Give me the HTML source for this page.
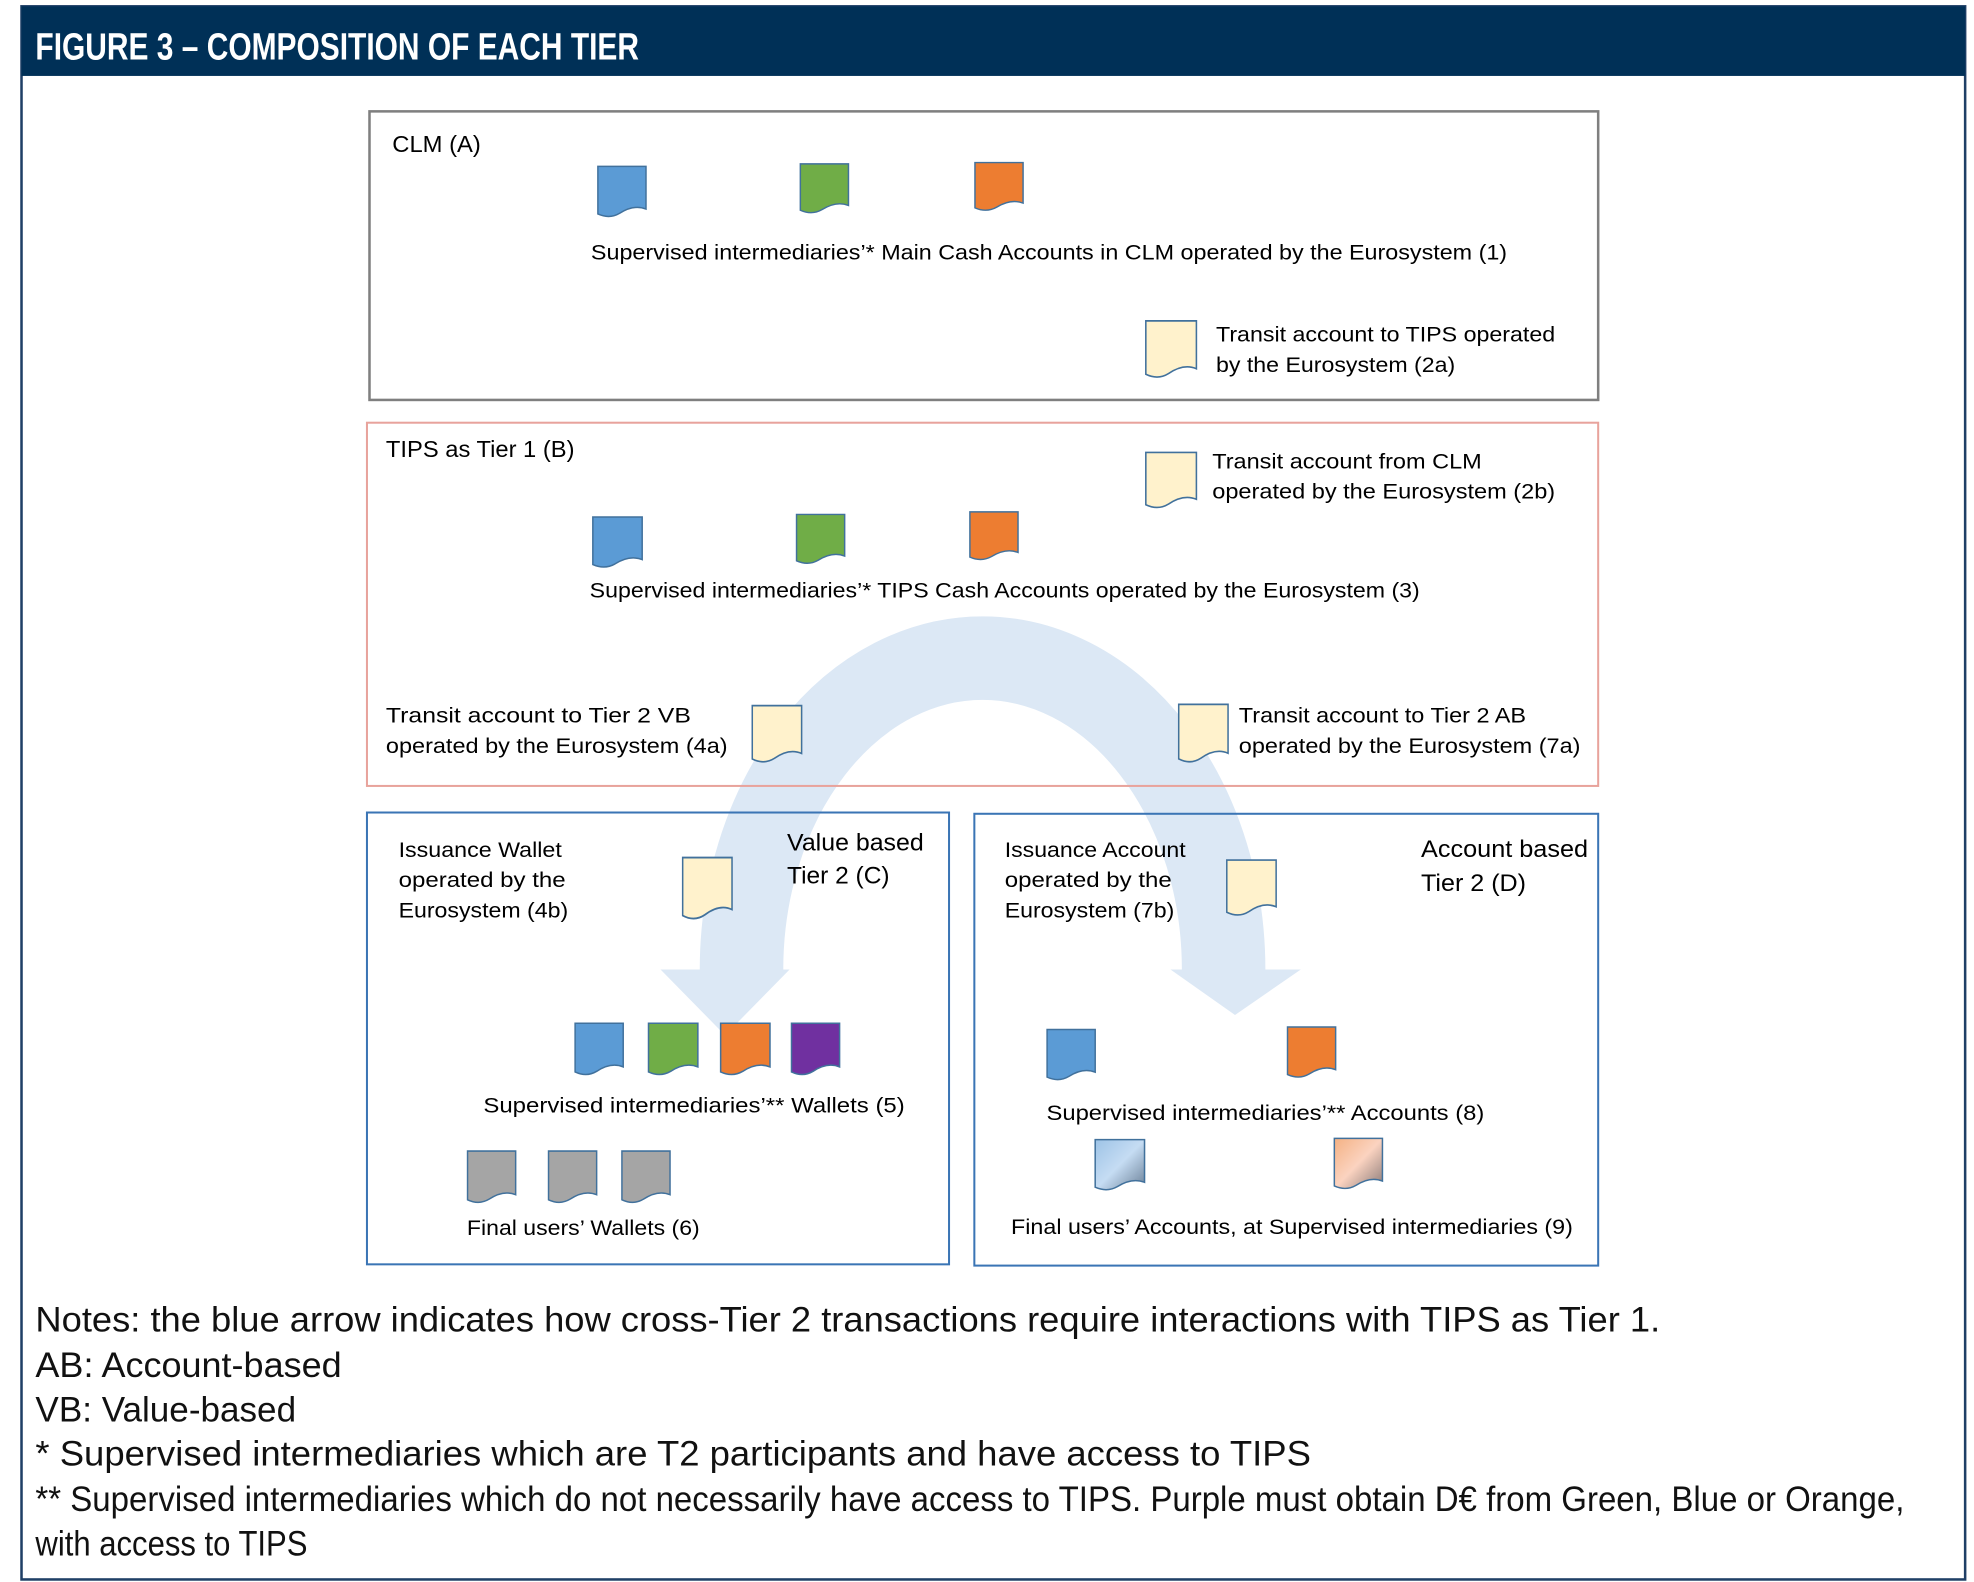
<!DOCTYPE html>
<html><head><meta charset="utf-8"><style>
html,body{margin:0;padding:0;background:#fff;}
svg{display:block;}
text{font-family:"Liberation Sans",sans-serif;}
</style></head><body>
<svg width="1974" height="1582" viewBox="0 0 1560 1250" preserveAspectRatio="none" xmlns="http://www.w3.org/2000/svg">
<defs>
<symbol id="doc" viewBox="0 0 40 42" preserveAspectRatio="none" overflow="visible">
<path d="M0.5,0.5 H39.5 V35 C32,32 25,34 18,38.5 C12,42 6,41.5 0.5,39 Z" stroke="#41719c" stroke-width="1.2" fill="inherit"/>
</symbol>
<linearGradient id="gb" x1="0" y1="0" x2="1" y2="1"><stop offset="0" stop-color="#9dc3e6"/><stop offset="0.5" stop-color="#c5dcf3"/><stop offset="1" stop-color="#6a7f96"/></linearGradient>
<linearGradient id="go" x1="0" y1="0" x2="1" y2="1"><stop offset="0" stop-color="#f4b183"/><stop offset="0.5" stop-color="#fbd3c0"/><stop offset="1" stop-color="#8a7a78"/></linearGradient>
</defs>
<rect x="0" y="0" width="1560" height="1250" fill="#fff"/>
<rect x="17" y="5" width="1536" height="1243" fill="none" stroke="#1f3f66" stroke-width="2"/>
<rect x="17" y="5" width="1536" height="55" fill="#003057"/>
<text x="28" y="47" font-size="30" font-weight="bold" fill="#fff" textLength="477" lengthAdjust="spacingAndGlyphs">FIGURE 3 – COMPOSITION OF EACH TIER</text>

<path d="M586,766 A190.5,246 0 0 1 967,766" fill="none" stroke="#dce8f5" stroke-width="66"/>
<polygon points="522,766 624,766 573,818" fill="#dce8f5"/>
<polygon points="925,766 1028,766 976,802" fill="#dce8f5"/>

<rect x="292" y="88" width="971" height="228" fill="none" stroke="#7f7f7f" stroke-width="2"/>
<rect x="290" y="334" width="973" height="287" fill="none" stroke="#e8a39c" stroke-width="1.6"/>
<rect x="290" y="642" width="460" height="357" fill="none" stroke="#3b75b5" stroke-width="1.6"/>
<rect x="770" y="643" width="493" height="357" fill="none" stroke="#3b75b5" stroke-width="1.6"/>

<g font-size="17" fill="#000">
<text x="310" y="120" font-size="18" textLength="70" lengthAdjust="spacingAndGlyphs">CLM (A)</text>
<text x="467" y="205" textLength="724" lengthAdjust="spacingAndGlyphs">Supervised intermediaries’* Main Cash Accounts in CLM operated by the Eurosystem (1)</text>
<text x="961" y="270" textLength="268" lengthAdjust="spacingAndGlyphs">Transit account to TIPS operated</text>
<text x="961" y="294" textLength="189" lengthAdjust="spacingAndGlyphs">by the Eurosystem (2a)</text>
<text x="305" y="361" font-size="18" textLength="149" lengthAdjust="spacingAndGlyphs">TIPS as Tier 1 (B)</text>
<text x="958" y="370" textLength="213" lengthAdjust="spacingAndGlyphs">Transit account from CLM</text>
<text x="958" y="394" textLength="271" lengthAdjust="spacingAndGlyphs">operated by the Eurosystem (2b)</text>
<text x="466" y="472" textLength="656" lengthAdjust="spacingAndGlyphs">Supervised intermediaries’* TIPS Cash Accounts operated by the Eurosystem (3)</text>
<text x="305" y="571" textLength="241" lengthAdjust="spacingAndGlyphs">Transit account to Tier 2 VB</text>
<text x="305" y="595" textLength="270" lengthAdjust="spacingAndGlyphs">operated by the Eurosystem (4a)</text>
<text x="979" y="571" textLength="227" lengthAdjust="spacingAndGlyphs">Transit account to Tier 2 AB</text>
<text x="979" y="595" textLength="270" lengthAdjust="spacingAndGlyphs">operated by the Eurosystem (7a)</text>
<text x="315" y="677" textLength="129" lengthAdjust="spacingAndGlyphs">Issuance Wallet</text>
<text x="315" y="701" textLength="132" lengthAdjust="spacingAndGlyphs">operated by the</text>
<text x="315" y="725" textLength="134" lengthAdjust="spacingAndGlyphs">Eurosystem (4b)</text>
<text x="622" y="672" font-size="19" textLength="108" lengthAdjust="spacingAndGlyphs">Value based</text>
<text x="622" y="698" font-size="19" textLength="81" lengthAdjust="spacingAndGlyphs">Tier 2 (C)</text>
<text x="382" y="879" textLength="333" lengthAdjust="spacingAndGlyphs">Supervised intermediaries’** Wallets (5)</text>
<text x="369" y="976" textLength="184" lengthAdjust="spacingAndGlyphs">Final users’ Wallets (6)</text>
<text x="794" y="677" textLength="143" lengthAdjust="spacingAndGlyphs">Issuance Account</text>
<text x="794" y="701" textLength="132" lengthAdjust="spacingAndGlyphs">operated by the</text>
<text x="794" y="725" textLength="134" lengthAdjust="spacingAndGlyphs">Eurosystem (7b)</text>
<text x="1123" y="677" font-size="19" textLength="132" lengthAdjust="spacingAndGlyphs">Account based</text>
<text x="1123" y="704" font-size="19" textLength="83" lengthAdjust="spacingAndGlyphs">Tier 2 (D)</text>
<text x="827" y="885" textLength="346" lengthAdjust="spacingAndGlyphs">Supervised intermediaries’** Accounts (8)</text>
<text x="799" y="975" textLength="444" lengthAdjust="spacingAndGlyphs">Final users’ Accounts, at Supervised intermediaries (9)</text>
</g>

<use href="#doc" x="472" y="131" width="39" height="41" fill="#5b9bd5"/>
<use href="#doc" x="632" y="129" width="39" height="40" fill="#70ad47"/>
<use href="#doc" x="770" y="128" width="39" height="39" fill="#ed7d31"/>
<use href="#doc" x="905" y="253" width="41" height="46" fill="#fff2cc"/>
<use href="#doc" x="905" y="357" width="41" height="45" fill="#fff2cc"/>
<use href="#doc" x="468" y="408" width="40" height="41" fill="#5b9bd5"/>
<use href="#doc" x="629" y="406" width="39" height="40" fill="#70ad47"/>
<use href="#doc" x="766" y="404" width="39" height="39" fill="#ed7d31"/>
<use href="#doc" x="594" y="557" width="40" height="46" fill="#fff2cc"/>
<use href="#doc" x="931" y="556" width="40" height="47" fill="#fff2cc"/>
<use href="#doc" x="539" y="677" width="40" height="50" fill="#fff2cc"/>
<use href="#doc" x="454" y="808" width="39" height="42" fill="#5b9bd5"/>
<use href="#doc" x="512" y="808" width="40" height="42" fill="#70ad47"/>
<use href="#doc" x="569" y="808" width="40" height="42" fill="#ed7d31"/>
<use href="#doc" x="625" y="808" width="39" height="42" fill="#7030a0"/>
<use href="#doc" x="369" y="909" width="39" height="42" fill="#a5a5a5"/>
<use href="#doc" x="433" y="909" width="39" height="42" fill="#a5a5a5"/>
<use href="#doc" x="491" y="909" width="39" height="42" fill="#a5a5a5"/>
<use href="#doc" x="969" y="679" width="40" height="45" fill="#fff2cc"/>
<use href="#doc" x="827" y="813" width="39" height="41" fill="#5b9bd5"/>
<use href="#doc" x="1017" y="811" width="39" height="41" fill="#ed7d31"/>
<use href="#doc" x="865" y="900" width="40" height="41" fill="url(#gb)"/>
<use href="#doc" x="1054" y="899" width="39" height="41" fill="url(#go)"/>

<g font-size="28" fill="#111">
<text x="28" y="1052" textLength="1284" lengthAdjust="spacingAndGlyphs">Notes: the blue arrow indicates how cross-Tier 2 transactions require interactions with TIPS as Tier 1.</text>
<text x="28" y="1088" textLength="242" lengthAdjust="spacingAndGlyphs">AB: Account-based</text>
<text x="28" y="1123" textLength="206" lengthAdjust="spacingAndGlyphs">VB: Value-based</text>
<text x="28" y="1158" textLength="1008" lengthAdjust="spacingAndGlyphs">* Supervised intermediaries which are T2 participants and have access to TIPS</text>
<text x="28" y="1194" textLength="1477" lengthAdjust="spacingAndGlyphs">** Supervised intermediaries which do not necessarily have access to TIPS. Purple must obtain D€ from Green, Blue or Orange,</text>
<text x="28" y="1229" textLength="215" lengthAdjust="spacingAndGlyphs">with access to TIPS</text>
</g>
</svg>
</body></html>
